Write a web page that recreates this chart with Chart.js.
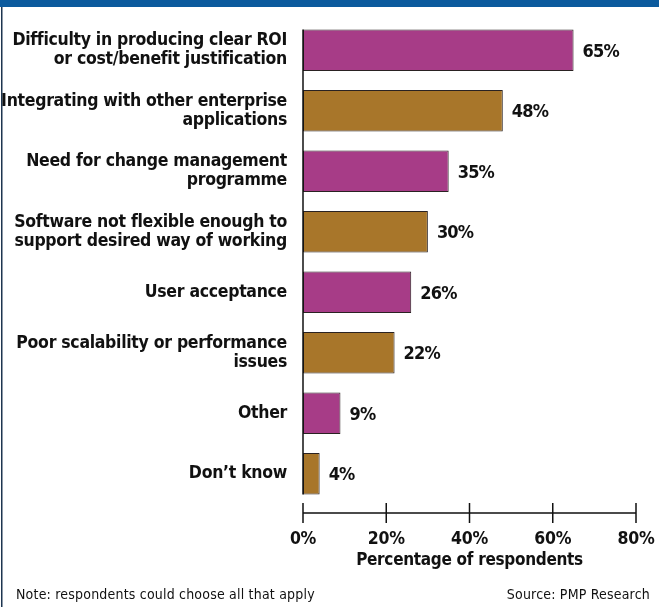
<!DOCTYPE html>
<html>
<head>
<meta charset="utf-8">
<script src="https://cdn.jsdelivr.net/npm/chart.js@4/dist/chart.umd.min.js"></script>
<style>
  html, body { margin: 0; padding: 0; background: #ffffff; }
  #wrap { position: relative; width: 659px; height: 607px; }
</style>
</head>
<body>
<div id="wrap"><canvas id="chart" width="659" height="607"></canvas></div>
<script>
// Survey answers, one bar per answer (multi-line labels as arrays)
const categories = [
  ["Difficulty in producing clear ROI", "or cost/benefit justification"],
  ["Integrating with other enterprise", "applications"],
  ["Need for change management", "programme"],
  ["Software not flexible enough to", "support desired way of working"],
  "User acceptance",
  ["Poor scalability or performance", "issues"],
  "Other",
  "Don\u2019t know"
];
const percentages = [65, 48, 35, 30, 26, 22, 9, 4];
const xTicks = [0, 20, 40, 60, 80];
const axisTitle = "Percentage of respondents";
const noteText = "Note: respondents could choose all that apply";
const sourceText = "Source: PMP Research";

const MAGENTA = "#a73c87";
const OCHRE = "#a8762a";
const barColors = percentages.map((_, i) => (i % 2 === 0 ? MAGENTA : OCHRE));

const FONT = "'DejaVu Sans Condensed', 'Liberation Sans Narrow', sans-serif";

// Frame, axis lines, value labels and footnotes
const decorations = {
  id: "decorations",
  beforeDraw(chart) {
    const ctx = chart.ctx;
    ctx.save();
    ctx.fillStyle = "#ffffff";
    ctx.fillRect(0, 0, chart.width, chart.height);
    ctx.fillStyle = "#0b5a9d";
    ctx.fillRect(0, 0, chart.width, 7);
    ctx.fillStyle = "#1d3550";
    ctx.fillRect(1, 7, 1.5, chart.height - 7);
    ctx.restore();
    // slightly tighter tracking for the library-drawn labels
    ctx.letterSpacing = "-0.3px";
  },
  afterDatasetsDraw(chart) {
    const ctx = chart.ctx;
    const x = chart.scales.x;
    const meta = chart.getDatasetMeta(0);
    const first = meta.data[0];
    const last = meta.data[meta.data.length - 1];
    const x0 = x.getPixelForValue(0);
    ctx.save();
    ctx.strokeStyle = "#111111";
    ctx.lineWidth = 1.5;
    // vertical axis spanning the bars
    ctx.beginPath();
    ctx.moveTo(x0, first.y - first.height / 2);
    ctx.lineTo(x0, last.y + last.height / 2);
    ctx.stroke();
    // detached horizontal axis with crossing ticks
    const ay = chart.chartArea.bottom + 9;
    ctx.beginPath();
    ctx.moveTo(x0, ay);
    ctx.lineTo(x.getPixelForValue(xTicks[xTicks.length - 1]), ay);
    xTicks.forEach(v => {
      const px = x.getPixelForValue(v);
      ctx.moveTo(px, ay - 10);
      ctx.lineTo(px, ay + 10);
    });
    ctx.stroke();
    // value labels
    ctx.fillStyle = "#111111";
    ctx.font = "bold 18px " + FONT;
    ctx.letterSpacing = "-0.8px";
    ctx.textAlign = "left";
    ctx.textBaseline = "middle";
    meta.data.forEach((bar, i) => {
      ctx.fillText(percentages[i] + "%", bar.x + 9, bar.y + 2);
    });
    // footnotes
    ctx.font = "14px " + FONT;
    ctx.letterSpacing = "0.2px";
    ctx.textBaseline = "alphabetic";
    ctx.fillText(noteText, 16, 599);
    ctx.textAlign = "right";
    ctx.fillText(sourceText, 650, 599);
    ctx.restore();
  }
};

new Chart(document.getElementById("chart"), {
  type: "bar",
  data: {
    labels: categories,
    datasets: [{
      data: percentages,
      backgroundColor: barColors,
      borderColor: "#2a2222",
      borderWidth: 1,
      borderSkipped: false,
      barPercentage: 0.686,
      categoryPercentage: 1.0
    }]
  },
  options: {
    indexAxis: "y",
    responsive: false,
    animation: false,
    devicePixelRatio: 1,
    layout: { padding: { top: 20, right: 23, bottom: 38, left: 0 } },
    plugins: { legend: { display: false }, tooltip: { enabled: false } },
    scales: {
      x: {
        min: 0,
        max: 80,
        afterBuildTicks(scale) { scale.ticks = xTicks.map(v => ({ value: v })); },
        afterFit(scale) { scale.paddingLeft = 0; scale.paddingRight = 0; },
        grid: { display: false, drawTicks: false },
        border: { display: false },
        ticks: {
          padding: 27,
          color: "#111111",
          font: { family: FONT, size: 17.5, weight: "bold", lineHeight: 1 },
          callback: v => v + "%"
        },
        title: {
          display: true,
          text: axisTitle,
          color: "#111111",
          padding: { top: -23.5, bottom: 0 },
          font: { family: FONT, size: 17, weight: "bold", lineHeight: 1 }
        }
      },
      y: {
        afterFit(scale) { scale.width = 303; scale.paddingTop = 0; scale.paddingBottom = 0; },
        grid: { display: false, drawTicks: false },
        border: { display: false },
        ticks: {
          padding: 16,
          color: "#111111",
          font: { family: FONT, size: 17.5, weight: "bold", lineHeight: 1.1 }
        }
      }
    }
  },
  plugins: [decorations]
});
</script>
</body>
</html>
